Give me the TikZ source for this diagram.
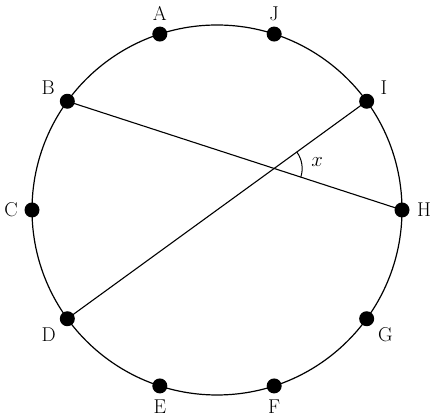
\documentclass[tikz,border=0pt]{standalone}
\usepackage{amsmath, amssymb}
\usetikzlibrary{angles, quotes, calc}

\begin{document}
\begin{tikzpicture}[x=1pt, y=1pt, font=\fontsize{20}{24}\selectfont,
    dot/.style={circle, fill=black, inner sep=0pt, minimum size=15pt}]
    \useasboundingbox (0,0) rectangle (440,420);
    % Circle
    \coordinate (O) at (217,210);
    \draw[line width=1.2pt] (O) circle (185);

    % Points
    \node[dot, label={[label distance=2pt]90:A}] (A) at ($(O)+(108:185)$) {};
    \node[dot, label={[label distance=2pt]160:B}] (B) at ($(O)+(144:185)$) {};
    \node[dot, label={[label distance=3pt]180:C}] (C) at ($(O)+(180:185)$) {};
    \node[dot, label={[label distance=2pt]215:D}] (D) at ($(O)+(216:185)$) {};
    \node[dot, label={[label distance=3pt]270:E}] (E) at ($(O)+(252:185)$) {};
    \node[dot, label={[label distance=3pt]270:F}] (F) at ($(O)+(288:185)$) {};
    \node[dot, label={[label distance=2pt]325:G}] (G) at ($(O)+(324:185)$) {};
    \node[dot, label={[label distance=4pt]0:H}] (H) at ($(O)+(0:185)$) {};
    \node[dot, label={[label distance=3pt]15:I}] (I) at ($(O)+(36:185)$) {};
    \node[dot, label={[label distance=2pt]90:J}] (J) at ($(O)+(72:185)$) {};

    % Chords
    \draw[line width=1.1pt] (B.center) -- (H.center);
    \draw[line width=1.1pt] (D.center) -- (I.center);

    % Angle
    \coordinate (P) at (intersection of B.center--H.center and D.center--I.center);
    \pic[draw, line width=1pt, angle radius=28pt, angle eccentricity=1.55,
        "$x$"] {angle = H--P--I};
\end{tikzpicture}
\end{document}
